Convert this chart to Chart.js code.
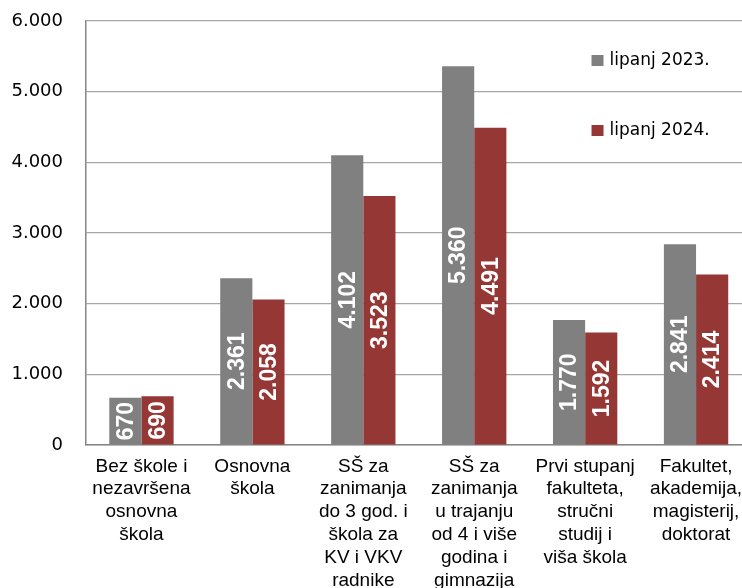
<!DOCTYPE html>
<html>
<head>
<meta charset="utf-8">
<script src="https://cdn.jsdelivr.net/npm/chart.js@4.4.1/dist/chart.umd.min.js"></script>
<style>
  html, body { margin: 0; padding: 0; overflow: hidden; background: #fff; }
  #wrap { width: 752px; height: 625px; }
</style>
</head>
<body>
<div id="wrap"><canvas id="chart"></canvas></div>
<script>
// categories (multi-line labels as in the original)
const categories = [
  ["Bez škole i", "nezavršena", "osnovna", "škola"],
  ["Osnovna", "škola"],
  ["SŠ za", "zanimanja", "do 3 god. i", "škola za", "KV i VKV", "radnike"],
  ["SŠ za", "zanimanja", "u trajanju", "od 4 i više", "godina i", "gimnazija"],
  ["Prvi stupanj", "fakulteta,", "stručni", "studij i", "viša škola"],
  ["Fakultet,", "akademija,", "magisterij,", "doktorat"]
];
const seriesNames = ["lipanj 2023.", "lipanj 2024."];
const values2023 = [670, 2361, 4102, 5360, 1770, 2841];
const values2024 = [690, 2058, 3523, 4491, 1592, 2414];
const yTicks = [0, 1000, 2000, 3000, 4000, 5000, 6000];

const GRAY = "#808080";
const RED = "#953735";

function fmt(v) {
  return String(v).replace(/\B(?=(\d{3})+(?!\d))/g, ".");
}

// white rotated value labels in the middle of each bar
const barLabels = {
  id: "barLabels",
  afterDatasetsDraw(chart) {
    const ctx = chart.ctx;
    ctx.save();
    ctx.fillStyle = "#fff";
    ctx.font = "bold 23px 'Liberation Sans', Arial, sans-serif";
    ctx.textAlign = "center";
    ctx.textBaseline = "middle";
    chart.data.datasets.forEach((ds, i) => {
      chart.getDatasetMeta(i).data.forEach((bar, j) => {
        const cy = (bar.y + bar.base) / 2;
        ctx.save();
        ctx.translate(bar.x + 1, cy);
        ctx.rotate(-Math.PI / 2);
        ctx.fillText(fmt(ds.data[j]), 0, 0);
        ctx.restore();
      });
    });
    ctx.restore();
  }
};

// legend drawn inside the plot, top right
const innerLegend = {
  id: "innerLegend",
  afterDraw(chart) {
    const ctx = chart.ctx;
    const a = chart.chartArea;
    ctx.save();
    ctx.font = "17px 'DejaVu Sans', Verdana, sans-serif";
    ctx.textBaseline = "middle";
    ctx.textAlign = "left";
    chart.data.datasets.forEach((ds, i) => {
      const x = a.right - 160;
      const y = a.top + 39 + i * 70;
      ctx.fillStyle = ds.backgroundColor;
      ctx.fillRect(x, y - 5, 12, 11);
      ctx.fillStyle = "#000";
      ctx.fillText(ds.label, x + 18, y + 1);
    });
    ctx.restore();
  }
};

new Chart(document.getElementById("chart"), {
  type: "bar",
  data: {
    labels: categories,
    datasets: [
      { label: seriesNames[0], data: values2023, backgroundColor: GRAY },
      { label: seriesNames[1], data: values2024, backgroundColor: RED }
    ]
  },
  options: {
    responsive: true,
    maintainAspectRatio: false,
    animation: false,
    layout: { padding: { top: 21, left: 0, right: 0, bottom: 0 } },
    datasets: { bar: { categoryPercentage: 0.58, barPercentage: 1.0 } },
    plugins: {
      legend: { display: false },
      tooltip: { enabled: false }
    },
    scales: {
      x: {
        grid: { display: false, drawTicks: false },
        border: { color: "#868686", width: 1.5 },
        ticks: {
          color: "#000",
          padding: 10,
          maxRotation: 0,
          autoSkip: false,
          font: { family: "'Liberation Sans', Arial, sans-serif", size: 19, lineHeight: 1.2 }
        },
        afterFit(axis) { axis.height = 625 - 445; }
      },
      y: {
        min: 0,
        max: 6000,
        afterBuildTicks(axis) { axis.ticks = yTicks.map(v => ({ value: v })); },
        // invisible tick marks give the gap between labels and axis
        grid: { color: "#a6a6a6", lineWidth: 1.2, drawTicks: true, tickLength: 23, tickColor: "rgba(0,0,0,0)" },
        border: { color: "#868686", width: 1.5 },
        ticks: {
          color: "#000",
          padding: 0,
          font: { family: "'DejaVu Sans', Verdana, sans-serif", size: 18 },
          callback: v => fmt(v)
        },
        afterFit(axis) { axis.width = 86; }
      }
    }
  },
  plugins: [barLabels, innerLegend]
});
</script>
</body>
</html>
